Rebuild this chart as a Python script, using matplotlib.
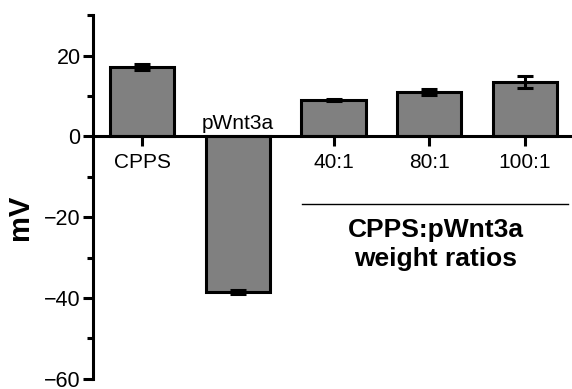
import matplotlib
matplotlib.use("Agg")
import matplotlib.pyplot as plt
import numpy as np
from matplotlib.ticker import MultipleLocator

plt.rcParams["font.family"] = ["Liberation Sans", "DejaVu Sans"]

labels = ["CPPS", "pWnt3a", "40:1", "80:1", "100:1"]
values = [17.2, -38.5, 9.0, 11.0, 13.5]
errors = [0.8, 0.5, 0.3, 0.8, 1.4]
x = np.arange(len(labels))

fig = plt.figure(figsize=(5.72, 3.89), dpi=100)
ax = fig.add_axes([0.163, 0.026, 0.837, 0.935])

ax.bar(x, values, width=0.67, color="#808080", edgecolor="black", linewidth=2.2, zorder=2)
ax.errorbar(x, values, yerr=errors, fmt="none", ecolor="black", elinewidth=2.2,
            capsize=6, capthick=2.2, zorder=3)

ax.set_xlim(-0.51, 4.49)
ax.set_ylim(-60, 30)
ax.spines["top"].set_visible(False)
ax.spines["right"].set_visible(False)
ax.spines["bottom"].set_position(("data", 0))
ax.spines["left"].set_bounds(-60, 30)
for s in ("left", "bottom"):
    ax.spines[s].set_linewidth(2.2)

ax.yaxis.set_major_locator(MultipleLocator(20))
ax.yaxis.set_minor_locator(MultipleLocator(10))
ax.set_yticks([-60, -40, -20, 0, 20])
ax.set_yticklabels(["\u221260", "\u221240", "\u221220", "0", "20"], fontsize=15.5)
ax.tick_params(axis="y", which="major", length=7, width=2.2, pad=2)
ax.tick_params(axis="y", which="minor", length=4, width=2.2)

ax.set_xticks(x)
ax.set_xticklabels([])
ax.tick_params(axis="x", length=7, width=2.2, direction="out")
for xi, lab in zip(x, labels):
    if lab == "pWnt3a":
        ax.text(xi, 1.9, lab, ha="center", va="baseline", fontsize=15)
    else:
        ax.text(xi, -4.0, lab, ha="center", va="top", fontsize=15)

ax.set_ylabel("mV", fontsize=21, fontweight="bold")
ax.yaxis.set_label_coords(-0.123, 0.445)

# group bracket for weight ratios
ax.plot([1.67, 4.45], [-16.8, -16.8], color="black", lw=1, clip_on=False)
ax.text(3.07, -20.3, "CPPS:pWnt3a\nweight ratios", ha="center", va="top",
        fontsize=19, fontweight="bold", linespacing=1.22)

fig.savefig("out.png", dpi=100)
